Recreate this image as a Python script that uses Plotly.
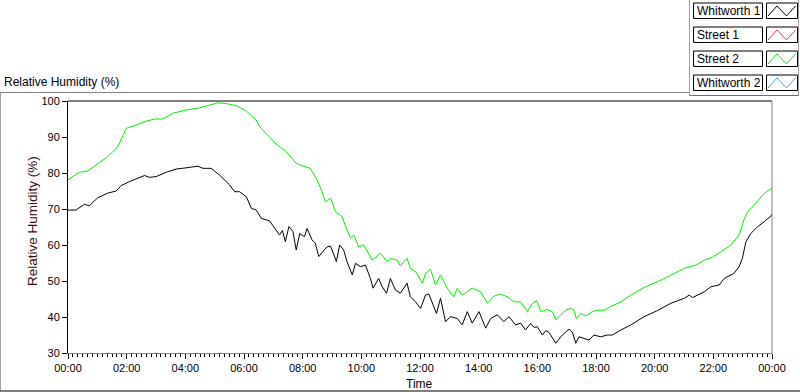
import pandas as pd
import plotly.graph_objects as go

# ---------------- data ----------------
series_names = ["Whitworth 1", "Street 1", "Street 2", "Whitworth 2"]
series_colors = ["#000000", "#ff3030", "#00f000", "#33aaff"]

whitworth1_hours = [0.00, 0.27, 0.56, 0.73, 1.01, 1.35, 1.64, 1.81, 2.15, 2.61, 2.78, 3.00, 3.35, 3.69,
                    4.09, 4.43, 4.60, 4.88, 5.17, 5.51, 5.68, 5.85, 6.08, 6.25, 6.42, 6.59, 6.87, 7.04,
                    7.21, 7.31, 7.41, 7.53, 7.67, 7.78, 7.90, 8.06, 8.15, 8.32, 8.43, 8.55, 8.72, 8.83,
                    8.95, 9.15, 9.26, 9.40, 9.51, 9.69, 9.80, 9.97, 10.14, 10.31, 10.40, 10.59, 10.71,
                    10.86, 10.99, 11.16, 11.33, 11.56, 11.67, 11.85, 12.02, 12.19, 12.30, 12.42, 12.56,
                    12.70, 12.87, 13.04, 13.27, 13.44, 13.61, 13.78, 14.01, 14.24, 14.41, 14.64, 14.86,
                    15.03, 15.26, 15.43, 15.60, 15.77, 15.89, 16.00, 16.17, 16.29, 16.40, 16.63, 16.80,
                    16.97, 17.08, 17.20, 17.31, 17.42, 17.60, 17.76, 17.93, 18.16, 18.39, 18.56, 18.85,
                    19.19, 19.64, 20.10, 20.55, 21.01, 21.18, 21.29, 21.69, 21.92, 22.20, 22.37, 22.70,
                    22.88, 22.99, 23.11, 23.28, 23.51, 23.74, 23.97, 24.00]
whitworth1_rh = [69.7, 69.7, 71.3, 70.9, 73.1, 74.4, 75.0, 76.5, 77.8, 79.3, 78.8, 79.0, 80.2, 81.1,
                 81.5, 81.9, 81.3, 81.3, 79.4, 76.7, 74.8, 74.8, 73.4, 70.2, 69.7, 67.4, 66.7, 64.6,
                 62.8, 64.0, 60.9, 65.1, 63.7, 58.6, 63.2, 62.3, 64.6, 61.4, 60.5, 56.8, 58.6, 59.5,
                 59.7, 55.4, 60.0, 58.6, 55.4, 51.7, 54.9, 54.0, 54.4, 50.7, 48.0, 50.7, 48.4,
                 46.6, 50.7, 47.5, 46.6, 49.4, 45.6, 44.2, 42.4, 46.1, 46.4, 43.8, 41.0,
                 45.2, 38.7, 40.1, 39.6, 37.8, 41.5, 38.3, 41.5, 36.9, 39.6, 40.6, 38.7,
                 40.1, 37.8, 38.3, 36.4, 38.2, 37.1, 37.3, 35.0, 36.2, 35.7, 32.7, 34.5,
                 35.9, 36.6, 35.7, 32.7, 34.5, 34.1, 33.6, 35.0, 34.5, 35.0, 35.0, 36.4,
                 37.8, 40.1, 41.8, 43.8, 45.2, 46.1, 45.4, 47.0, 48.4, 48.9, 50.7, 52.1,
                 54.0, 56.3, 60.9, 63.2, 65.1, 66.5, 68.1, 68.6]

street2_hours = [0.00, 0.39, 0.67, 0.96, 1.35, 1.70, 1.98, 2.32, 2.66, 2.95, 3.23, 3.57, 4.03, 4.48,
                 4.94, 5.11, 5.39, 5.74, 6.08, 6.42, 6.53, 6.76, 7.10, 7.44, 7.78, 7.92, 8.26, 8.49,
                 8.66, 8.77, 8.95, 9.12, 9.34, 9.51, 9.63, 9.74, 9.91, 10.08, 10.20, 10.37, 10.65,
                 10.88, 10.99, 11.22, 11.33, 11.56, 11.67, 11.85, 12.08, 12.19, 12.36, 12.53, 12.70,
                 12.93, 13.15, 13.27, 13.44, 13.78, 14.07, 14.30, 14.52, 14.75, 14.98, 15.20, 15.43,
                 15.54, 15.66, 15.83, 15.98, 16.12, 16.34, 16.51, 16.63, 16.80, 16.97, 17.14, 17.25,
                 17.33, 17.48, 17.65, 17.88, 18.05, 18.28, 18.50, 18.85, 19.19, 19.64, 20.10, 20.55,
                 21.01, 21.41, 21.69, 21.98, 22.26, 22.60, 22.88, 23.06, 23.17, 23.40, 23.63, 23.80,
                 23.99]
street2_rh = [78.1, 80.2, 80.6, 82.2, 84.5, 87.3, 92.4, 93.3, 94.4, 95.0, 95.0, 96.6, 97.5, 98.1,
              99.1, 99.5, 99.3, 98.7, 97.2, 94.7, 92.9, 91.0, 88.0, 85.9, 82.7, 82.2, 81.3, 78.1,
              74.8, 72.0, 73.0, 69.3, 67.9, 64.2, 61.9, 62.8, 59.5, 60.0, 58.1, 55.8, 57.7,
              55.4, 56.3, 55.8, 54.2, 56.3, 53.5, 52.6, 49.4, 52.1, 53.2, 48.9, 51.7,
              48.0, 45.6, 48.0, 46.1, 48.0, 47.0, 43.8, 45.8, 46.4, 45.6, 44.2, 44.2,
              42.9, 41.5, 43.8, 44.5, 41.5, 42.1, 41.5, 39.2, 40.6, 41.9, 42.4, 41.9,
              39.6, 41.0, 40.3, 41.5, 41.9, 41.9, 42.9, 44.2, 46.1, 48.2, 49.8, 51.7,
              53.5, 54.4, 55.8, 56.6, 58.1, 60.0, 62.8, 67.4, 69.3, 71.1, 73.4, 74.8,
              75.7]

y_range = [30, 100]
y_ticks = [30, 40, 50, 60, 70, 80, 90, 100]

# ---------------- figure ----------------
base = pd.Timestamp("2000-01-01 00:00")
def to_time(hours):
    return [base + pd.to_timedelta(h, unit="h") for h in hours]

W, H = 800, 392
L, R, T, B = 68, 772, 101, 353   # plot area in pixels

def fx(px):
    return (px - L) / (R - L)

def fy(py):
    return (B - py) / (B - T)

FONT = "Liberation Sans"

fig = go.Figure()
fig.add_trace(go.Scatter(x=to_time(whitworth1_hours), y=whitworth1_rh, mode="lines",
                         name=series_names[0], line=dict(color=series_colors[0], width=1)))
fig.add_trace(go.Scatter(x=to_time(street2_hours), y=street2_rh, mode="lines",
                         name=series_names[2], line=dict(color=series_colors[2], width=1)))

shapes = []
def line(x0, y0, x1, y1, color, width=1):
    shapes.append(dict(type="line", xref="paper", yref="paper",
                       x0=fx(x0), y0=fy(y0), x1=fx(x1), y1=fy(y1),
                       line=dict(color=color, width=width)))

# plot frame: top black, right gray
line(L, T, R, T, "#000000")
line(R, T, R, B, "#808080")

# outer panel frame
line(0.5, 92.5, 0.5, 391, "#a0a0a0")
line(0, 92.5, 689.5, 92.5, "#808080")
line(0, 391, 800, 391, "#000000")
line(689.5, 0, 689.5, 95.5, "#a0a0a0")
line(689.5, 95.5, 799, 95.5, "#707070")
line(798.5, 0, 798.5, 95.5, "#a0a0a0")

annotations = []
row_tops = [3, 27, 51, 75]
for name, color, top in zip(series_names, series_colors, row_tops):
    shapes.append(dict(type="rect", xref="paper", yref="paper",
                       x0=fx(693.5), x1=fx(762.5), y0=fy(top), y1=fy(top + 15.5),
                       line=dict(color="#000000", width=1), fillcolor="white"))
    shapes.append(dict(type="rect", xref="paper", yref="paper",
                       x0=fx(766.5), x1=fx(797.5), y0=fy(top), y1=fy(top + 15.5),
                       line=dict(color="#000000", width=1), fillcolor="white"))
    pts = [(768, top + 13), (777, top + 3), (786.5, top + 13), (795.5, top + 3)]
    path = "M " + " L ".join(f"{fx(a)},{fy(b)}" for a, b in pts)
    shapes.append(dict(type="path", xref="paper", yref="paper", path=path,
                       line=dict(color=color, width=1)))
    annotations.append(dict(text=name, xref="paper", yref="paper", x=fx(695), y=fy(top + 8),
                            xanchor="left", yanchor="middle", showarrow=False,
                            font=dict(family=FONT, size=12, color="#000000")))

annotations.append(dict(text="Relative Humidity (%)", xref="paper", yref="paper",
                        x=fx(2), y=fy(82), xanchor="left", yanchor="middle", showarrow=False,
                        font=dict(family=FONT, size=12, color="#000000")))
annotations.append(dict(text="Relative Humidity (%)", xref="paper", yref="paper",
                        x=fx(32), y=fy(221), xanchor="center", yanchor="middle", showarrow=False,
                        textangle=-90, font=dict(family=FONT, size=13.5, color="#3a0808")))
annotations.append(dict(text="Time", xref="paper", yref="paper",
                        x=fx(419), y=fy(384), xanchor="center", yanchor="middle", showarrow=False,
                        font=dict(family=FONT, size=12, color="#000000")))

fig.update_layout(
    width=W, height=H,
    margin=dict(l=L, r=W - R, t=T, b=H - B, pad=0),
    paper_bgcolor="white", plot_bgcolor="white",
    showlegend=False,
    font=dict(family=FONT, size=11, color="#000000"),
    shapes=shapes, annotations=annotations,
    xaxis=dict(type="date", range=[base, base + pd.Timedelta(hours=24)],
               tickformat="%H:%M", dtick=2 * 3600 * 1000, tick0=base,
               ticks="outside", ticklen=5, tickcolor="#000000", tickwidth=1,
               showgrid=False, zeroline=False, showline=True, linecolor="#808080", linewidth=1,
               tickfont=dict(family=FONT, size=11, color="#000000"),
               minor=dict(dtick=10 * 60 * 1000, ticks="outside", ticklen=3,
                          tickcolor="#000000", showgrid=False)),
    yaxis=dict(range=y_range, tickvals=y_ticks,
               ticks="outside", ticklen=5, tickcolor="#000000", tickwidth=1,
               showgrid=False, zeroline=False, showline=True, linecolor="#000000", linewidth=1,
               tickfont=dict(family=FONT, size=11, color="#000000")),
)

fig.write_html("out.html", config={"displayModeBar": False},
               post_script="document.body.style.margin='0';document.body.style.overflow='hidden';")
